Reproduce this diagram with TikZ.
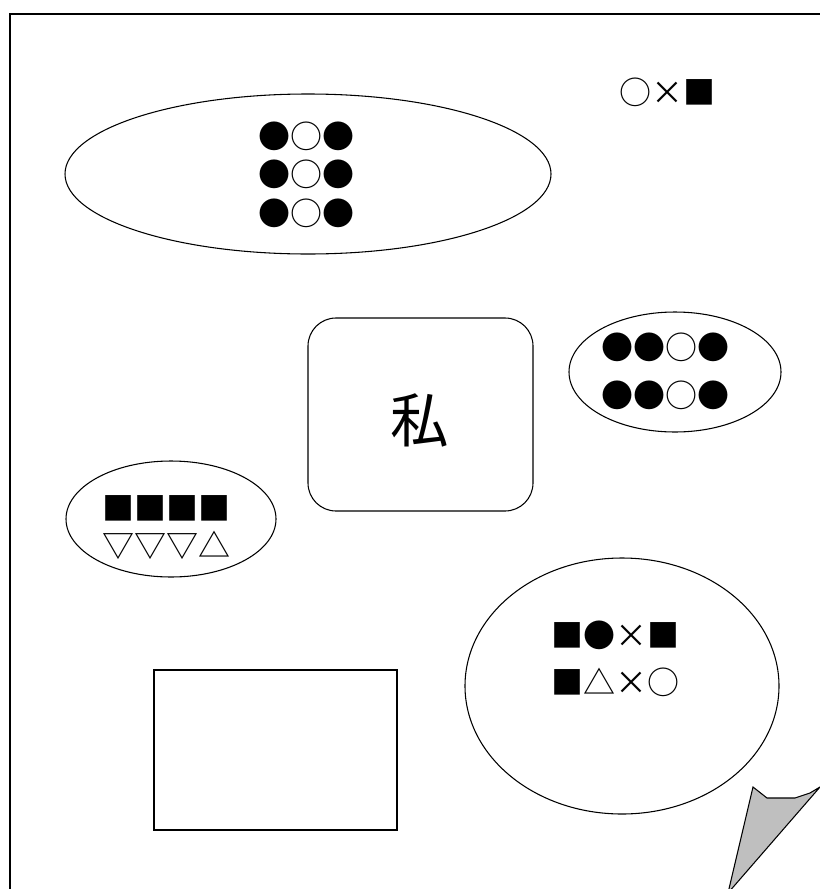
\documentclass[tikz,border=0pt]{standalone}
\usepackage{fontspec}
\usepackage{tikz}
\newfontfamily\jpfont{Noto Sans CJK JP}
\tikzset{
  sym/.style={font=\jpfont\fontsize{24}{24}\selectfont, inner sep=0pt, anchor=center},
  blob/.style={draw=black, line width=0.8pt},
}

\begin{document}
\begin{tikzpicture}[x=0.75pt,y=-0.75pt]
\useasboundingbox (0,0) rectangle (820,889);
\begin{scope}
\clip (0,0) rectangle (820,889);
% sheet border
\draw [black,line width=1.6pt] (10,895)--(10,14)--(820,14);
% bubbles
\draw [blob] (308,174) ellipse [x radius=243, y radius=80];
\draw [blob] (675,372) ellipse [x radius=106, y radius=60];
\draw [blob] (171,519) ellipse [x radius=105, y radius=58];
\draw [blob] (622,686) ellipse [x radius=157, y radius=128];
\draw [blob,rounded corners=21pt] (308,318) rectangle (533,511);
\draw [black,line width=1.2pt] (154,670) rectangle (397,830);
% tail
\fill [fill=gray!50,draw=black,line width=0.8pt] (753,787)--(767,798)--(795,798)--(810,793)--(820,787)--(728,893)--cycle;
\end{scope}
% texts
\node[sym] (key) at (667,92) {○×■};
\node[sym] (g1) at (306,136) {●○●};
\node[sym] (g2) at (306,174) {●○●};
\node[sym] (g3) at (306,213) {●○●};
\node[sym] (r1) at (665,347) {●●○●};
\node[sym] (r2) at (665,395) {●●○●};
\node[sym] (l1) at (166,508) {■■■■};
\node[sym] (l2) at (166,545) {▽▽▽△};
\node[sym] (b1) at (615,635) {■●×■};
\node[sym] (b2) at (615,682) {■△×○};
\node[font=\jpfont\fontsize{44}{44}\selectfont, inner sep=0pt] (me) at (420,420) {私};
\end{tikzpicture}
\end{document}
